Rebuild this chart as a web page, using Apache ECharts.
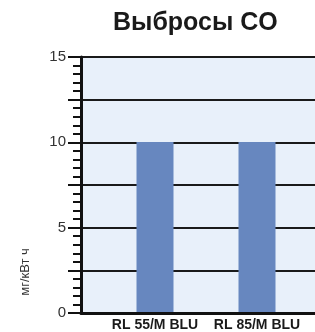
<!DOCTYPE html>
<html>
<head>
<meta charset="utf-8">
<script src="https://cdn.jsdelivr.net/npm/echarts@6/dist/echarts.min.js"></script>
<style>
  html, body { margin: 0; padding: 0; background: #fff; }
  #chart { width: 315px; height: 332px; }
</style>
</head>
<body>
<div id="chart"></div>
<script>
// Chart data
const categories = ['RL 55/M BLU', 'RL 85/M BLU'];
const emissions = [10, 10];
const yTicks = [0, 5, 10, 15];

const chart = echarts.init(document.getElementById('chart'));

const font = '"Liberation Sans", Arial, sans-serif';

chart.setOption({
  animation: false,
  title: {
    text: 'Выбросы CO',
    left: 108,
    top: 6,
    textStyle: { fontFamily: font, fontSize: 25, fontWeight: 'bold', color: '#1a1a1a' },
  },
  graphic: [{
    type: 'text',
    x: 25,
    y: 272,
    rotation: Math.PI / 2,
    style: {
      text: 'мг/кВт ч',
      font: '13px ' + font,
      fill: '#333',
      align: 'center',
      verticalAlign: 'middle',
    },
  }],
  grid: [
    // frame: background, y axis, gridlines
    { left: 81, right: 0, top: 57, bottom: 19, show: true, backgroundColor: '#e8f0fa', borderWidth: 0 },
    // bars
    { left: 104, width: 204, top: 57, bottom: 19 },
  ],
  xAxis: [
    {
      gridIndex: 0, type: 'value', min: 0, max: 1,
      axisLine: { show: true, lineStyle: { color: '#111', width: 3 } },
      axisTick: { show: false }, axisLabel: { show: false }, splitLine: { show: false },
    },
    {
      gridIndex: 1, type: 'category', data: categories,
      axisLine: { show: false }, axisTick: { show: false },
      axisLabel: { interval: 0, margin: 6, fontFamily: font, fontSize: 14, fontWeight: 'bold', color: '#1a1a1a' },
    },
  ],
  yAxis: [
    {
      gridIndex: 0, type: 'value', min: 0, max: 15, interval: 2.5,
      axisLine: { show: true, lineStyle: { color: '#111', width: 3 } },
      axisTick: { show: true, length: 13, lineStyle: { color: '#111', width: 2 } },
      minorTick: { show: true, splitNumber: 5, length: 8, lineStyle: { color: '#111', width: 2 } },
      axisLabel: {
        margin: 15, fontFamily: font, fontSize: 15, color: '#333',
        formatter: v => (yTicks.includes(v) ? String(v) : ''),
      },
      splitLine: { show: true, lineStyle: { color: '#1a1a1a', width: 2 } },
    },
    {
      gridIndex: 1, type: 'value', min: 0, max: 15, show: false,
    },
  ],
  series: [{
    type: 'bar',
    xAxisIndex: 1,
    yAxisIndex: 1,
    data: emissions,
    barWidth: 37,
    itemStyle: { color: '#6787bf' },
  }],
});
</script>
</body>
</html>
